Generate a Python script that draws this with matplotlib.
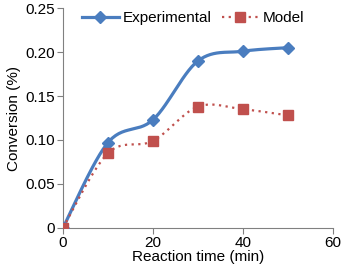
import numpy as np
import matplotlib
matplotlib.use("Agg")
import matplotlib.pyplot as plt

plt.rcParams['font.family'] = ['Liberation Sans', 'DejaVu Sans']

time_min = [0, 10, 20, 30, 40, 50]
experimental = [0.0, 0.097, 0.123, 0.190, 0.201, 0.205]
model = [0.0, 0.085, 0.099, 0.138, 0.135, 0.128]

blue = '#4a7dbf'
red = '#c0504d'


def smooth(x, y, sx=60.0, sy=0.25, n=30):
    # Catmull-Rom style smoothing like a spreadsheet "smoothed line"
    p = np.column_stack([np.asarray(x, float) / sx, np.asarray(y, float) / sy])
    p = np.vstack([p[0], p, p[-1]])
    out = []
    t = np.linspace(0, 1, n)[:, None]
    for i in range(1, len(p) - 2):
        p0, p1, p2, p3 = p[i - 1], p[i], p[i + 1], p[i + 2]
        c1 = p1 + (p2 - p0) / 6
        c2 = p2 - (p3 - p1) / 6
        seg = ((1 - t) ** 3) * p1 + 3 * ((1 - t) ** 2) * t * c1 + 3 * (1 - t) * t ** 2 * c2 + t ** 3 * p2
        out.append(seg if i == 1 else seg[1:])
    out = np.vstack(out)
    return out[:, 0] * sx, out[:, 1] * sy


fig = plt.figure(figsize=(3.42, 2.71), dpi=100)
ax = fig.add_axes([0.184, 0.159, 0.790, 0.811])

ex, ey = smooth(time_min, experimental)
mx, my = smooth(time_min, model)
ax.plot(ex, ey, color=blue, lw=2.3, zorder=2)
ax.plot(mx, my, color=red, lw=1.6, ls=(0, (1, 2)), zorder=2)
ax.plot(time_min, experimental, ls='none', marker='D', ms=6.5, color=blue, zorder=3)
ax.plot(time_min, model, ls='none', marker='s', ms=7.5, color=red, zorder=3)

ax.plot([], [], color=blue, lw=2.3, marker='D', ms=6.5, label='Experimental')
ax.plot([], [], color=red, lw=1.6, ls=(0, (1, 2)), marker='s', ms=7.5, label='Model')

ax.set_xlim(0, 60)
ax.set_ylim(0, 0.25)
ax.set_xticks([0, 20, 40, 60])
ax.set_yticks([0, 0.05, 0.10, 0.15, 0.20, 0.25])
ax.set_yticklabels(['0', '0.05', '0.10', '0.15', '0.20', '0.25'])
ax.spines['top'].set_visible(False)
ax.spines['right'].set_visible(False)
for s in ('left', 'bottom'):
    ax.spines[s].set_color('#808080')
    ax.spines[s].set_linewidth(0.8)
ax.tick_params(direction='out', length=4, width=0.8, color='#808080', labelsize=11, pad=2)
ax.set_xlabel('Reaction time (min)', fontsize=11, labelpad=0)
ax.set_ylabel('Conversion (%)', fontsize=11, labelpad=3)
for sp in ax.spines.values():
    sp.set_clip_on(False)

ax.legend(loc='upper left', bbox_to_anchor=(0.02, 1.05), ncol=2, frameon=False,
          fontsize=11, handlelength=2.4, columnspacing=0.7, handletextpad=0.25)

fig.savefig('out.png', dpi=100)
